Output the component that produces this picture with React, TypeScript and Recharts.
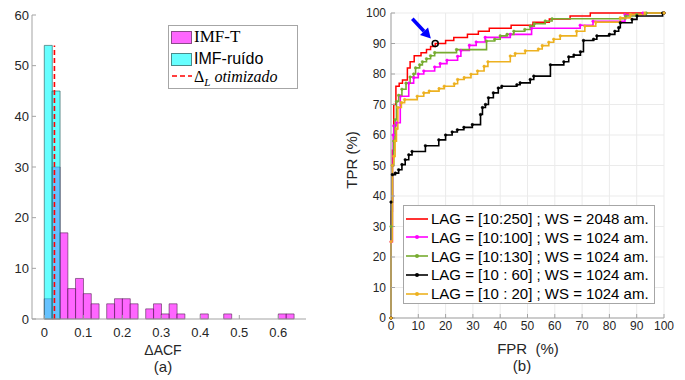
import {
    ComposedChart,
    Bar,
    LineChart,
    Line,
    XAxis,
    YAxis,
    CartesianGrid,
    ReferenceLine,
    ReferenceDot,
} from "recharts";

// ---- (a) histogram of delta ACF ----
const binStart = [
    0, 0.02, 0.04, 0.06, 0.08, 0.1, 0.12, 0.14, 0.16, 0.18, 0.2, 0.22, 0.24,
    0.26, 0.28, 0.3, 0.32, 0.34, 0.36, 0.38, 0.4, 0.42, 0.44, 0.46, 0.48, 0.5,
    0.52, 0.54, 0.56, 0.58, 0.6, 0.62,
];
const imfT = [
    4, 30, 17, 6, 8, 5, 3, 0, 3, 4, 4, 3, 0, 2, 3, 1, 3, 1, 0, 0, 1, 0, 0, 1, 0,
    0, 0, 0, 0, 0, 1, 1,
];
const imfRuido = [
    54, 45, 0, 0, 0, 0, 0, 0, 0, 0, 0, 0, 0, 0, 0, 0, 0, 0, 0, 0, 0, 0, 0, 0, 0,
    0, 0, 0, 0, 0, 0, 0,
];
const deltaL = 0.026;
const deltaTop = 54;
const acfTicks = [0, 0.1, 0.2, 0.3, 0.4, 0.5, 0.6];
const countTicks = [0, 10, 20, 30, 40, 50, 60];
const acfDomain = [-0.0315, 0.671];

// ---- (b) ROC curves, [FPR %, TPR %] ----
const rocRed = [
    [0, 0], [0, 35], [0.5, 55], [1, 70], [1.8, 76], [3, 77], [4.2, 78], [6, 82],
    [7, 84], [8.5, 86], [11, 87], [13, 88], [14.5, 89], [16.2, 90], [20, 91],
    [23, 92], [28, 93], [32, 94], [36, 95], [44, 96], [52, 97], [58, 98],
    [65.6, 99], [73, 100], [100, 100],
];
const rocMagenta = [
    [0, 0], [0, 25], [0.5, 50], [0.8, 60], [1, 63], [2, 64], [3.4, 72.7],
    [6.5, 77], [8.3, 78.8], [10, 80], [12, 81], [16, 82.3], [18, 83.4],
    [20.5, 84.5], [24.4, 85.8], [25.6, 87.7], [28.7, 89.4], [31.2, 90.5],
    [34.5, 92], [43.7, 93], [51.5, 95], [69.3, 96], [74, 97.3], [85.7, 99.4],
    [92.3, 100], [100, 100],
];
const rocGreen = [
    [0, 0], [0, 30], [0.5, 50], [1, 58], [1.5, 65], [2, 71], [2.8, 73], [4, 75],
    [5.5, 77], [7, 79], [8.3, 80], [9, 82], [10.5, 83], [11.5, 84], [13, 85],
    [14.5, 86], [16, 87], [24, 88], [35, 90.8], [38, 91.4], [40, 92.5],
    [42.5, 93], [45, 94], [49, 94.6], [51, 95.7], [52.5, 96.5], [56.5, 97.4],
    [59, 98.1], [86, 99], [90, 99.5], [93.5, 100], [100, 100],
];
const rocBlack = [
    [0, 0], [0, 38], [0.5, 47], [1.6, 47.5], [2.8, 48.6], [4, 50.3], [5.2, 51.9],
    [6.5, 53.5], [7.7, 54.6], [12.6, 56.5], [17.5, 58.4], [20, 60], [22.4, 61],
    [24.3, 61.7], [26.7, 62.5], [29.8, 63.4], [32.8, 66.7], [33.5, 69],
    [34.6, 70], [35.7, 72.2], [37.5, 73.8], [39.3, 75.4], [40.6, 76],
    [46.1, 76.5], [47.3, 77.1], [51, 78.2], [52.3, 79.3], [58.4, 83],
    [63.3, 84], [65.1, 85.6], [67, 86.2], [69.4, 87.3], [70.5, 91],
    [74.2, 91.4], [75.4, 92.5], [80, 93], [82, 94], [83.4, 95.2], [84, 96.8],
    [88.3, 97.9], [90.1, 99], [99.5, 100], [100, 100],
];
const rocOrange = [
    [0, 0], [0, 25], [0.5, 50], [1, 53], [1.5, 58], [2, 62], [2.5, 69],
    [3.8, 70.6], [5, 71.6], [9.6, 72.7], [12, 73.8], [14, 74.4], [17.6, 75.2],
    [19.5, 76], [23.2, 76.8], [24.4, 78.2], [26.8, 78.8], [29.3, 79.9],
    [31.7, 81], [34.1, 82.5], [35.5, 84], [43.7, 85.9], [45.5, 86.7],
    [49.2, 87.6], [54, 88.2], [55.4, 89.3], [57.8, 90.4], [59.6, 91.4],
    [62, 92.5], [68, 94], [71, 95.7], [75, 97], [84, 98.4], [87.7, 99.5],
    [93, 100], [100, 100],
];
const rocTicks = [0, 10, 20, 30, 40, 50, 60, 70, 80, 90, 100];
const bestPoint = [16.2, 90];
const arrowFrom = [7.8, 98.1];
const arrowTo = [14.6, 91.6];

const series = [
    { name: "LAG = [10:250] ; WS = 2048 am.", color: "#ff0000", pts: rocRed, dot: false },
    { name: "LAG = [10:100] ; WS = 1024 am.", color: "#ff00ff", pts: rocMagenta, dot: true },
    { name: "LAG = [10:130] ; WS = 1024 am.", color: "#77ac30", pts: rocGreen, dot: true },
    { name: "LAG = [10 : 60] ; WS = 1024 am.", color: "#000000", pts: rocBlack, dot: true },
    { name: "LAG = [10 : 20] ; WS = 1024 am.", color: "#edb120", pts: rocOrange, dot: true },
];

const axisColor = "#a3a3a3";
const tickFont = { fontSize: 13, fill: "#262626" };
const sans = '"Liberation Sans", Arial, Helvetica, sans-serif';
const serif = '"Liberation Serif", "Times New Roman", serif';

const Label = ({ x, y, children, rotate = 0, size = 15 }: any) => (
    <div
        style={{
            position: "absolute",
            left: x,
            top: y,
            transform: `translate(-50%, -50%) rotate(${rotate}deg)`,
            fontSize: size,
            whiteSpace: "pre",
            color: "#262626",
            fontFamily: sans,
        }}
    >
        {children}
    </div>
);

const ArrowShape = (p: any) => {
    const { x1, y1, x2, y2 } = p;
    const ang = Math.atan2(y2 - y1, x2 - x1);
    const len = 10;
    const half = 5.5;
    const bx = x2 - len * Math.cos(ang);
    const by = y2 - len * Math.sin(ang);
    const nx = -Math.sin(ang) * half;
    const ny = Math.cos(ang) * half;
    return (
        <g>
            <line x1={x1} y1={y1} x2={bx} y2={by} stroke="#0000ff" strokeWidth={3.5} />
            <polygon
                points={`${x2},${y2} ${bx + nx},${by + ny} ${bx - nx},${by - ny}`}
                fill="#0000ff"
            />
        </g>
    );
};

function Histogram() {
    const data = binStart.map((b, i) => ({
        bin: b,
        imfT: imfT[i],
        ruido: imfRuido[i],
    }));
    const plotW = 274;
    const span = acfDomain[1] - acfDomain[0];
    const padL = ((0 - acfDomain[0]) / span) * plotW;
    const lastEdge = binStart[binStart.length - 1] + 0.02;
    const padR = ((acfDomain[1] - lastEdge) / span) * plotW;

    return (
        <ComposedChart
            width={330}
            height={340}
            data={data}
            margin={{ top: 15, right: 24, bottom: 0, left: 4 }}
            barCategoryGap={0}
            barGap={0}
        >
            <XAxis
                xAxisId="num"
                dataKey="bin"
                type="number"
                domain={acfDomain}
                allowDataOverflow
                ticks={acfTicks}
                height={21}
                stroke={axisColor}
                tickSize={-4}
                tickMargin={13}
                tick={tickFont}
                interval={0}
            />
            <XAxis xAxisId="c1" dataKey="bin" type="category" hide height={0} padding={{ left: padL, right: padR }} />
            <XAxis xAxisId="c2" dataKey="bin" type="category" hide height={0} padding={{ left: padL, right: padR }} />
            <XAxis
                xAxisId="top"
                orientation="top"
                dataKey="bin"
                type="number"
                domain={acfDomain}
                allowDataOverflow
                ticks={acfTicks}
                height={0}
                stroke={axisColor}
                tickSize={-4}
                tick={false}
            />
            <YAxis
                type="number"
                domain={[0, 60]}
                ticks={countTicks}
                width={28}
                stroke={axisColor}
                tickSize={-4}
                tickMargin={7}
                tick={tickFont}
                interval={0}
            />
            <YAxis
                yAxisId="right"
                orientation="right"
                type="number"
                domain={[0, 60]}
                ticks={countTicks}
                width={0}
                stroke={axisColor}
                tickSize={-4}
                tick={false}
            />
            <Bar
                xAxisId="c1"
                dataKey="imfT"
                fill="#ff00ff"
                fillOpacity={0.6}
                stroke="#4a1f4a"
                strokeOpacity={0.7}
                strokeWidth={0.8}
                isAnimationActive={false}
            />
            <Bar
                xAxisId="c2"
                dataKey="ruido"
                fill="#00ffff"
                fillOpacity={0.6}
                stroke="#1f4a4a"
                strokeOpacity={0.7}
                strokeWidth={0.8}
                isAnimationActive={false}
            />
            <ReferenceLine
                xAxisId="num"
                segment={[
                    { x: deltaL, y: 0 },
                    { x: deltaL, y: deltaTop },
                ]}
                stroke="#ff0000"
                strokeWidth={1.6}
                strokeDasharray="5 3"
            />
        </ComposedChart>
    );
}

function RocChart() {
    return (
        <LineChart
            width={340}
            height={340}
            margin={{ top: 13, right: 16, bottom: 0, left: 23 }}
        >
            <CartesianGrid stroke="#ebebeb" horizontalValues={rocTicks} verticalValues={rocTicks} />
            <XAxis
                dataKey="x"
                type="number"
                domain={[0, 100]}
                ticks={rocTicks}
                height={22}
                stroke={axisColor}
                tickSize={-4}
                tickMargin={7}
                tick={{ ...tickFont, fontSize: 12 }}
                interval={0}
            />
            <XAxis
                xAxisId="top"
                orientation="top"
                dataKey="x"
                type="number"
                domain={[0, 100]}
                ticks={rocTicks}
                height={0}
                stroke={axisColor}
                tickSize={-4}
                tick={false}
            />
            <YAxis
                type="number"
                domain={[0, 100]}
                ticks={rocTicks}
                width={28}
                stroke={axisColor}
                tickSize={-4}
                tickMargin={9}
                tick={{ ...tickFont, fontSize: 12 }}
                interval={0}
            />
            <YAxis
                yAxisId="right"
                orientation="right"
                type="number"
                domain={[0, 100]}
                ticks={rocTicks}
                width={0}
                stroke={axisColor}
                tickSize={-4}
                tick={false}
            />
            {series.map((s) => (
                <Line
                    key={s.name}
                    data={s.pts.map(([x, y]) => ({ x, y }))}
                    dataKey="y"
                    type="stepAfter"
                    stroke={s.color}
                    strokeWidth={s.dot ? 1.6 : 1.5}
                    dot={s.dot ? { r: 1.3, fill: s.color, stroke: s.color, strokeWidth: 0.5 } : false}
                    isAnimationActive={false}
                />
            ))}
            <ReferenceDot
                x={bestPoint[0]}
                y={bestPoint[1]}
                r={3}
                fill="none"
                stroke="#000"
                strokeWidth={1.5}
            />
            <ReferenceLine
                segment={[
                    { x: arrowFrom[0], y: arrowFrom[1] },
                    { x: arrowTo[0], y: arrowTo[1] },
                ]}
                shape={ArrowShape}
            />
        </LineChart>
    );
}

const LegendMark = ({ color, dot }: { color: string; dot: boolean }) => (
    <svg width={24} height={10} style={{ marginRight: 2 }}>
        <line x1={1} y1={5} x2={23} y2={5} stroke={color} strokeWidth={1.6} />
        {dot && <circle cx={12} cy={5} r={2} fill={color} />}
    </svg>
);

export default function App() {
    return (
        <div
            style={{
                position: "absolute",
                left: 0,
                top: 0,
                width: 685,
                height: 380,
                background: "#fff",
                fontFamily: sans,
            }}
        >
            <div style={{ position: "absolute", left: 0, top: 0 }}>
                <Histogram />
            </div>
            <div style={{ position: "absolute", left: 340, top: 0 }}>
                <RocChart />
            </div>

            {/* legend (a) */}
            <div
                style={{
                    position: "absolute",
                    left: 168,
                    top: 25,
                    width: 128,
                    height: 62,
                    border: "1px solid #a6a6a6",
                    background: "#fff",
                }}
            >
                <div style={{ position: "absolute", left: 2, top: 5, width: 21, height: 13, background: "#ff66ff", border: "1px solid #8a4a8a", boxSizing: "border-box" }} />
                <div style={{ position: "absolute", left: 25, top: 1, fontFamily: serif, fontSize: 17, lineHeight: "20px" }}>IMF-T</div>
                <div style={{ position: "absolute", left: 2, top: 27, width: 21, height: 13, background: "#66ffff", border: "1px solid #4a8a8a", boxSizing: "border-box" }} />
                <div style={{ position: "absolute", left: 25, top: 23, fontFamily: sans, fontSize: 16, lineHeight: "20px" }}>IMF-ruído</div>
                <svg style={{ position: "absolute", left: 2, top: 47 }} width={22} height={6}>
                    <line x1={1} y1={3} x2={21} y2={3} stroke="#ff0000" strokeWidth={1.6} strokeDasharray="5 3" />
                </svg>
                <div style={{ position: "absolute", left: 25, top: 41, fontFamily: serif, fontSize: 16, lineHeight: "20px", whiteSpace: "nowrap" }}>
                    Δ<sub style={{ fontStyle: "italic", fontSize: 11 }}>L</sub>
                    <span style={{ fontStyle: "italic" }}> otimizado</span>
                </div>
            </div>

            {/* legend (b) */}
            <div
                style={{
                    position: "absolute",
                    left: 403,
                    top: 205,
                    width: 250,
                    height: 97,
                    border: "1px solid #a6a6a6",
                    background: "#fff",
                }}
            >
                {series.map((s, i) => (
                    <div
                        key={s.name}
                        style={{
                            position: "absolute",
                            left: 1,
                            top: 3 + i * 18.8,
                            display: "flex",
                            alignItems: "center",
                            fontSize: 15,
                            lineHeight: "19px",
                            whiteSpace: "pre",
                            color: "#000",
                        }}
                    >
                        <LegendMark color={s.color} dot={s.dot} />
                        {s.name}
                    </div>
                ))}
            </div>

            <Label x={163} y={350} size={14}>ΔACF</Label>
            <Label x={163} y={366}>(a)</Label>
            <Label x={351} y={160} rotate={-90}>TPR (%)</Label>
            <Label x={528} y={348}>FPR  (%)</Label>
            <Label x={522} y={365}>(b)</Label>
        </div>
    );
}
